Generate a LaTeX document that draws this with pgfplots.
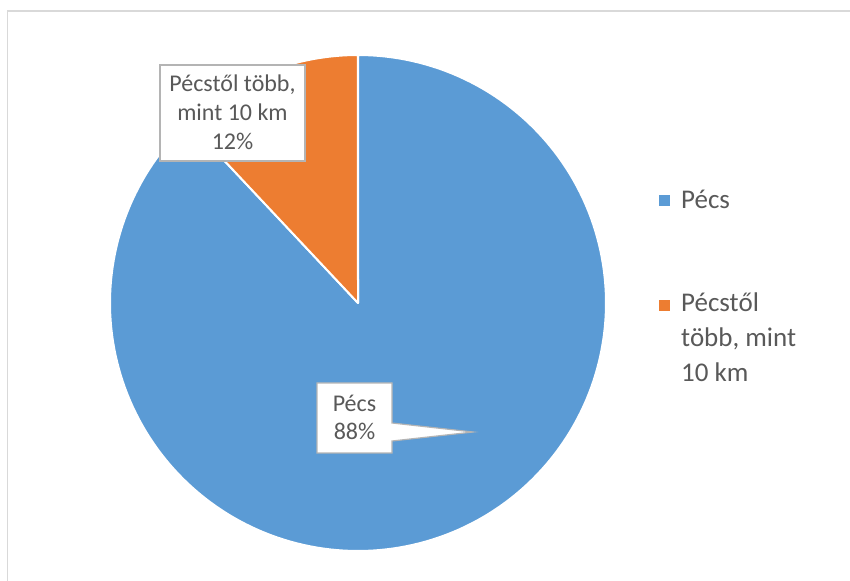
\documentclass[border=0pt]{standalone}
\usepackage{pgfplots}
\pgfplotsset{compat=1.18}
\usepackage{fontspec}
\setmainfont{Carlito}
\definecolor{pieblue}{HTML}{5B9BD5}
\definecolor{pieorange}{HTML}{ED7D31}
\definecolor{txtgray}{HTML}{595959}
\definecolor{boxgray}{HTML}{B4B4B4}
\definecolor{framegray}{HTML}{D9D9D9}
\begin{document}
\begin{tikzpicture}
\begin{axis}[
  at={(0,0)}, anchor=south west,
  scale only axis, width=850bp, height=581bp,
  xmin=0, xmax=850, ymin=-581, ymax=0,
  hide axis, clip=false,
]
% frame
\draw[framegray, line width=1.5bp] (axis cs:7.5,-581) -- (axis cs:7.5,-11) -- (axis cs:850,-11);
% Pécs 88 %
\addplot[fill=pieblue, draw=white, line width=2bp, domain=0:88, samples=200, line join=round]
  ({358+248*sin(3.6*x)}, {-303+248*cos(3.6*x)}) -- (axis cs:358,-303) -- cycle;
% Pécstől több, mint 10 km 12 %
\addplot[fill=pieorange, draw=white, line width=2bp, domain=88:100, samples=40, line join=round]
  ({358+248*sin(3.6*x)}, {-303+248*cos(3.6*x)}) -- (axis cs:358,-303) -- cycle;
% data label 1
\draw[boxgray, fill=white, line width=1.2bp] (axis cs:160,-65) rectangle (axis cs:305,-161);
\node[txtgray, align=center, anchor=base, inner sep=0pt, font=\fontsize{24bp}{29bp}\selectfont]
  at (axis cs:232.5,-150) {Pécstől több,\\mint 10 km\\12\%};
% data label 2 with callout
\draw[boxgray, fill=white, line width=1.2bp, line join=miter]
  (axis cs:317,-383) -- (axis cs:392,-383) -- (axis cs:392,-423) -- (axis cs:473,-432)
  -- (axis cs:392,-441) -- (axis cs:392,-453) -- (axis cs:317,-453) -- cycle;
\node[txtgray, align=center, anchor=base, inner sep=0pt, font=\fontsize{24bp}{28bp}\selectfont]
  at (axis cs:354.5,-440) {Pécs\\88\%};
% legend
\fill[pieblue] (axis cs:659,-195) rectangle (axis cs:670,-206);
\fill[pieorange] (axis cs:659,-300) rectangle (axis cs:670,-311);
\node[txtgray, align=left, anchor=base west, inner sep=0pt, font=\fontsize{27bp}{35bp}\selectfont]
  at (axis cs:681,-209) {Pécs};
\node[txtgray, align=left, anchor=base west, inner sep=0pt, font=\fontsize{27bp}{35bp}\selectfont]
  at (axis cs:681,-382) {Pécstől\\több, mint\\10 km};
\end{axis}
\pgfresetboundingbox
\useasboundingbox (0,0) rectangle (850bp,581bp);
\end{tikzpicture}
\end{document}
